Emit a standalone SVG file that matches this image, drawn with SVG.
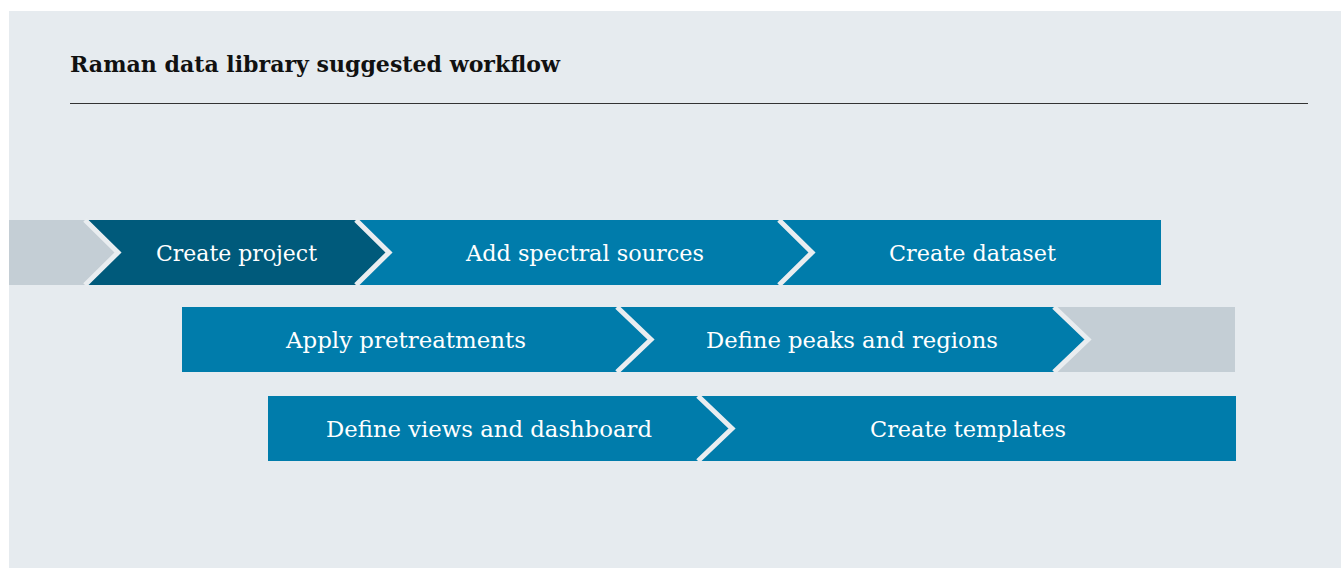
<svg xmlns="http://www.w3.org/2000/svg" width="1341" height="568" viewBox="0 0 1341 568">
<style>
.dark{fill:#005a7b}
.blue{fill:#007cab}
.grey{fill:#c4ced5}
.sep{fill:none;stroke:#e9edf0;stroke-width:5;stroke-linejoin:miter}
.lbl{font-family:"DejaVu Serif","Liberation Serif",serif;font-size:23px;fill:#ffffff;text-anchor:middle}
.title{font-family:"DejaVu Serif","Liberation Serif",serif;font-size:22px;font-weight:bold;fill:#111111}
</style>
<rect x="0" y="0" width="1341" height="568" fill="#ffffff"/>
<rect x="9" y="11" width="1332" height="557" fill="#e6ebef"/>
<g id="title">
<text class="title" x="70" y="72" textLength="490" lengthAdjust="spacingAndGlyphs">Raman data library suggested workflow</text>
<line x1="70" y1="103.5" x2="1308" y2="103.5" stroke="#333333" stroke-width="1.2"/>
</g>
<g id="start-grey"><polygon class="grey" points="9,220 85,220 118,252.5 85,285 9,285"/></g>
<g id="create-project"><polygon class="dark" points="85,220 356,220 389,252.5 356,285 85,285 118,252.5"/><text class="lbl" x="236.5" y="261" textLength="161" lengthAdjust="spacingAndGlyphs">Create project</text></g>
<g id="add-spectral-sources"><polygon class="blue" points="356,220 779,220 812,252.5 779,285 356,285 389,252.5"/><text class="lbl" x="585" y="261" textLength="238" lengthAdjust="spacingAndGlyphs">Add spectral sources</text></g>
<g id="create-dataset"><polygon class="blue" points="779,220 1161,220 1161,285 779,285 812,252.5"/><text class="lbl" x="972.5" y="261" textLength="167" lengthAdjust="spacingAndGlyphs">Create dataset</text></g>
<g id="apply-pretreatments"><polygon class="blue" points="182,307 617,307 651,339.5 617,372 182,372"/><text class="lbl" x="406" y="348" textLength="240" lengthAdjust="spacingAndGlyphs">Apply pretreatments</text></g>
<g id="define-peaks"><polygon class="blue" points="617,307 1054,307 1088,339.5 1054,372 617,372 651,339.5"/><text class="lbl" x="852" y="348" textLength="292" lengthAdjust="spacingAndGlyphs">Define peaks and regions</text></g>
<g id="end-grey"><polygon class="grey" points="1054,307 1235,307 1235,372 1054,372 1088,339.5"/></g>
<g id="define-views"><polygon class="blue" points="268,396 698,396 732,428.5 698,461 268,461"/><text class="lbl" x="489" y="437" textLength="326" lengthAdjust="spacingAndGlyphs">Define views and dashboard</text></g>
<g id="create-templates"><polygon class="blue" points="698,396 1236,396 1236,461 698,461 732,428.5"/><text class="lbl" x="968" y="437" textLength="196" lengthAdjust="spacingAndGlyphs">Create templates</text></g>
<g id="connectors">
<polyline class="sep" points="85,220 118,252.5 85,285"/>
<polyline class="sep" points="356,220 389,252.5 356,285"/>
<polyline class="sep" points="779,220 812,252.5 779,285"/>
<polyline class="sep" points="617,307 651,339.5 617,372"/>
<polyline class="sep" points="1054,307 1088,339.5 1054,372"/>
<polyline class="sep" points="698,396 732,428.5 698,461"/>
</g>
</svg>
